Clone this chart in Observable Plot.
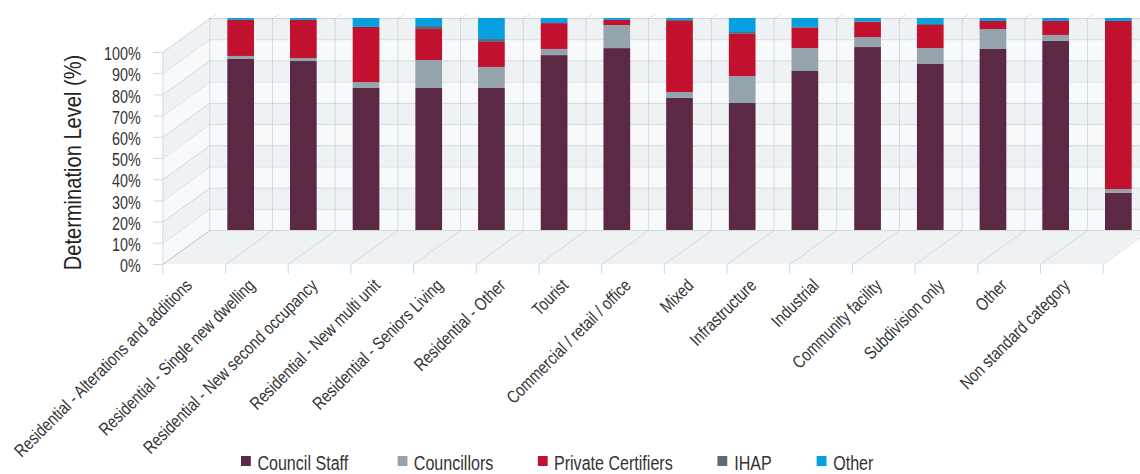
<!DOCTYPE html>
<html><head><meta charset="utf-8">
<script src="https://cdn.jsdelivr.net/npm/d3@7"></script>
<script src="https://cdn.jsdelivr.net/npm/@observablehq/plot@0.6"></script>
<style>
html,body{margin:0;padding:0;background:#fff;overflow:hidden}
#chart{position:relative;width:1140px;height:474px}
#legend{position:absolute;left:241px;top:452px;width:1000px;transform:scaleX(.82);transform-origin:0 0}
#legend div,#legend span{font:19.6px/22px "Liberation Sans",sans-serif !important;color:#333 !important;margin-bottom:0 !important;white-space:nowrap;min-height:0 !important}
#legend .lg-swatch{margin-right:55px !important}
#legend .lg-swatch:nth-of-type(1){margin-right:60px !important}
#legend .lg-swatch:nth-of-type(2){margin-right:54px !important}
#legend .lg-swatch svg{margin-right:8px !important;position:relative;top:-2px}
</style></head><body>
<div id="chart"><div id="plot"></div><div id="legend"></div></div>
<script>
const categories = ["Residential - Alterations and additions","Residential - Single new dwelling","Residential - New second occupancy","Residential - New multi unit","Residential - Seniors Living","Residential - Other","Tourist","Commercial / retail / office","Mixed","Infrastructure","Industrial","Community facility","Subdivision only","Other","Non standard category"];
const seriesNames = ["Council Staff","Councillors","Private Certifiers","IHAP","Other"];
const seriesColors = ["#5c2945","#94a3ac","#c2112f","#5b6b78","#069fdf"];
const councilStaff = [80.7,79.7,67.0,67.0,67.0,82.5,85.8,62.3,59.9,75.0,86.3,78.3,85.4,89.2,17.5];
const councillors  = [1.4,1.4,2.8,13.2,9.9,2.9,10.9,2.8,12.7,10.8,4.7,7.5,9.4,2.8,1.8];
const certifiers   = [17.0,18.0,26.0,14.6,11.8,12.2,2.4,33.5,19.9,9.6,7.1,10.9,3.8,6.6,79.3];
const ihap         = [0,0,0,1.4,1.4,0,0,0.5,0.9,0.4,0.3,0.5,0,0,0];
const otherShare   = [0.9,0.9,4.2,3.8,9.9,2.4,0.9,0.9,6.6,4.2,1.6,2.8,1.4,1.4,1.4];
const yTicks = [0,10,20,30,40,50,60,70,80,90,100];

const seriesValues = [councilStaff,councillors,certifiers,ihap,otherShare];
const rows = seriesNames.flatMap((series,s)=>categories.map((category,i)=>({i,category,series,value:seriesValues[s][i]})));

// 3-D box depth, expressed in data units
const W=1140,H=474,DX=47,DY=34;
const xStep=(1149.7-209.3)/15, yStep=2.12;
const dX=DX/xStep, dY=DY/yStep;
const n=categories.length;
const edges=d3.range(n+1);
const bandStarts=yTicks.slice(0,-1);
const darkBands=bandStarts.filter(v=>v%20===10);
const lightBands=bandStarts.filter(v=>v%20===0);
const wallBand=v=>[{v,x:-dX,y1:v-dY,y2:v+10-dY},{v,x:0,y1:v,y2:v+10}];
const floor=[{x:-dX,y1:-dY,y2:-dY},{x:0,y1:-dY,y2:0},{x:n-dX,y1:-dY,y2:0},{x:n,y1:0,y2:0}];
const DARK="#eff2f5",LIGHT="#f8f9fb",GRID="#8a9aa8";

const chart=Plot.plot({
  width:W,height:H,
  marginLeft:209.3,marginRight:W-1149.7,marginTop:18,marginBottom:H-230,
  style:{fontFamily:'"Liberation Sans",sans-serif',background:"transparent",overflow:"hidden"},
  x:{domain:[0,n],axis:null},
  y:{domain:[0,100],axis:null},
  color:{domain:seriesNames,range:seriesColors},
  marks:[
    Plot.rect(darkBands,{x1:0,x2:n,y1:d=>d,y2:d=>d+10,fill:DARK}),
    Plot.rect(lightBands,{x1:0,x2:n,y1:d=>d,y2:d=>d+10,fill:LIGHT}),
    Plot.areaY(darkBands.flatMap(wallBand),{x:"x",y1:"y1",y2:"y2",z:"v",fill:DARK}),
    Plot.areaY(lightBands.flatMap(wallBand),{x:"x",y1:"y1",y2:"y2",z:"v",fill:LIGHT}),
    Plot.areaY(floor,{x:"x",y1:"y1",y2:"y2",fill:DARK}),
    // back-wall grid
    Plot.ruleY(yTicks,{x1:0,x2:n,stroke:GRID,strokeOpacity:0.3}),
    Plot.ruleX(edges,{y1:0,y2:100,stroke:GRID,strokeOpacity:0.3}),
    // side wall and floor grid
    Plot.link(yTicks,{x1:-dX,x2:0,y1:d=>d-dY,y2:d=>d,stroke:GRID,strokeOpacity:0.3}),
    Plot.link(edges,{x1:d=>d-dX,x2:d=>d,y1:-dY,y2:0,stroke:GRID,strokeOpacity:0.3}),
    Plot.link(edges,{x1:d=>d,x2:d=>d+0.105,y1:100,y2:102,stroke:GRID,strokeOpacity:0.3}),
    Plot.ruleX([0],{x:-dX,y1:-dY,y2:100-dY,stroke:GRID,strokeOpacity:0.3}),
    // bars
    Plot.rectY(rows,{x:"i",interval:1,y:"value",fill:"series",insetLeft:18,insetRight:18}),
    // front axes
    Plot.axisY(yTicks,{anchor:"left",dx:-DX,dy:DY,tickSize:9,stroke:"#d3d9de",tickFormat:()=>"",label:null}),
    Plot.axisY(yTicks,{anchor:"left",dx:-DX,dy:DY+2,tickSize:0,tickPadding:22,
      tickFormat:d=>d+"%",label:null,fontSize:17.5,fill:"#333"}),
    Plot.axisX(edges,{anchor:"bottom",dx:-DX,dy:DY,tickSize:10,stroke:"#d3d9de",tickFormat:()=>"",label:null}),
    Plot.axisX(categories.map((c,i)=>i+0.5),{anchor:"bottom",dx:-DX-5,dy:DY,tickSize:0,tickPadding:18,tickRotate:-45,
      tickFormat:d=>categories[d-0.5],label:null,fontSize:17.7,fill:"#333",textOverflow:null,lineWidth:Infinity}),
    Plot.text(["Determination Level (%)"],{frameAnchor:"left",textAnchor:"middle",rotate:-90,dx:-137,dy:38,fontSize:24.5,fill:"#222"})
  ]
});
document.getElementById("plot").append(chart);
document.getElementById("legend").append(Plot.legend({color:{domain:seriesNames,range:seriesColors},swatchWidth:12,swatchHeight:10,className:"lg"}));
// condensed lettering: no narrow face is installed, so squeeze the real text horizontally
chart.querySelectorAll("text").forEach(t=>{
  const len=t.getComputedTextLength();
  if(len>0){t.setAttribute("textLength",(len*0.82).toFixed(1));t.setAttribute("lengthAdjust","spacingAndGlyphs");}
});
</script></body></html>
